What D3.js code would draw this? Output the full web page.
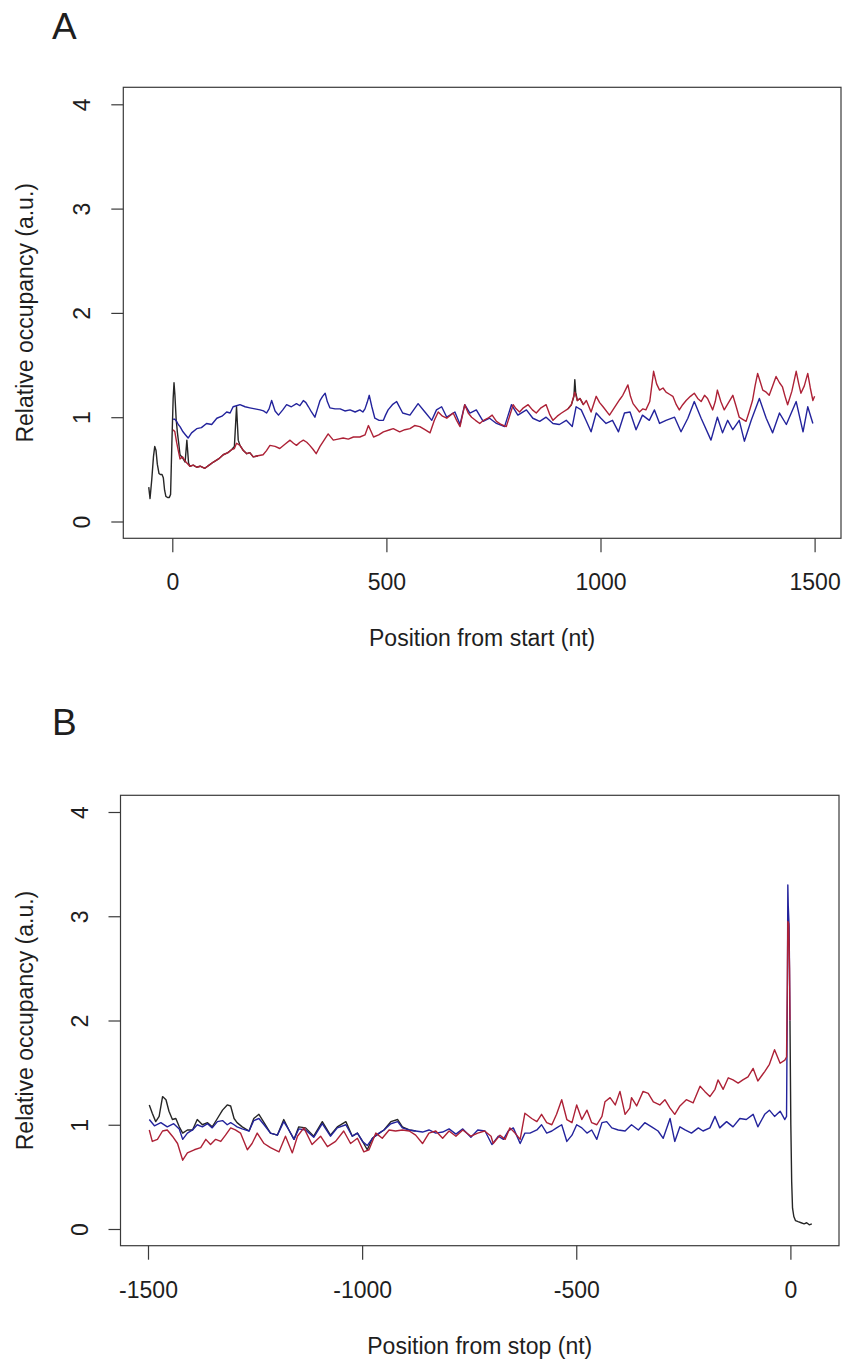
<!DOCTYPE html>
<html>
<head>
<meta charset="utf-8">
<script src="https://cdn.jsdelivr.net/npm/d3@7"></script>
<style>
  html, body { margin: 0; padding: 0; background: #fff; }
  svg { display: block; }
  text { font-family: "Liberation Sans", Arial, Helvetica, sans-serif; fill: #1e1e1e; }
</style>
</head>
<body>
<svg id="chart" width="846" height="1364"></svg>
<script>
// ---------------- DATA ----------------
// Panel A : position from start (nt)
const aTicksX = [0, 500, 1000, 1500];
const yTicks = [0, 1, 2, 3, 4];

const aBlueX = [2, 6, 10, 14, 18, 25, 31, 37, 45, 57, 68, 80, 92, 104, 116, 127, 135, 142, 150, 158, 170, 181, 193, 205, 213, 220, 226, 232, 240, 248, 258, 267, 278, 290, 298, 306, 312, 318, 325, 333, 339, 345, 351, 357, 362, 368, 380, 392, 403, 415, 427, 438, 445, 450, 455, 460, 466, 473, 483, 493, 498, 504, 514, 524, 538, 555, 574, 590, 606, 617, 629, 641, 660, 672, 683, 695, 710, 726, 741, 757, 776, 792, 807, 827, 842, 858, 873, 889, 904, 920, 934, 943, 955, 966, 978, 990, 1001, 1013, 1028, 1042, 1056, 1069, 1083, 1098, 1114, 1126, 1138, 1153, 1173, 1188, 1204, 1219, 1235, 1258, 1273, 1285, 1297, 1309, 1324, 1336, 1352, 1371, 1387, 1402, 1418, 1434, 1457, 1473, 1484, 1496];
const aBlueY = [0.98, 0.98, 0.96, 0.93, 0.91, 0.86, 0.83, 0.80, 0.85, 0.89, 0.90, 0.94, 0.93, 0.99, 1.01, 1.05, 1.04, 1.10, 1.11, 1.12, 1.10, 1.09, 1.08, 1.07, 1.06, 1.04, 1.08, 1.16, 1.06, 1.02, 1.07, 1.12, 1.10, 1.13, 1.11, 1.16, 1.14, 1.10, 1.05, 1.00, 1.08, 1.16, 1.20, 1.23, 1.15, 1.09, 1.08, 1.08, 1.06, 1.07, 1.05, 1.07, 1.05, 1.08, 1.14, 1.21, 1.10, 0.99, 0.97, 0.97, 1.02, 1.07, 1.12, 1.15, 1.04, 1.02, 1.13, 1.05, 0.97, 1.07, 1.10, 1.00, 1.05, 0.93, 1.12, 1.04, 1.07, 0.96, 0.99, 0.94, 0.91, 1.12, 1.02, 1.07, 0.99, 0.96, 1.00, 0.94, 0.93, 0.97, 0.91, 1.10, 1.07, 0.97, 0.86, 1.04, 0.99, 0.94, 0.97, 0.86, 1.04, 1.05, 0.88, 1.02, 0.97, 1.07, 0.94, 0.97, 1.00, 0.86, 0.99, 1.15, 0.99, 0.78, 1.00, 0.85, 0.97, 0.88, 0.97, 0.77, 0.97, 1.18, 0.99, 0.85, 1.04, 0.93, 1.15, 0.86, 1.10, 0.94];

const aRedX = [2, 6, 10, 14, 18, 24, 30, 34, 41, 49, 57, 65, 76, 86, 96, 108, 119, 130, 139, 145, 150, 158, 166, 174, 181, 189, 200, 212, 220, 228, 240, 251, 263, 275, 283, 290, 298, 306, 314, 321, 329, 336, 345, 353, 364, 376, 387, 399, 411, 423, 438, 450, 458, 470, 482, 493, 508, 516, 531, 543, 555, 566, 578, 590, 602, 612, 621, 631, 641, 656, 664, 672, 683, 691, 699, 708, 718, 727, 737, 747, 757, 768, 780, 796, 803, 811, 820, 831, 841, 850, 861, 873, 881, 889, 899, 909, 924, 932, 940, 946, 952, 960, 967, 978, 990, 998, 1006, 1021, 1029, 1037, 1045, 1052, 1058, 1064, 1070, 1076, 1091, 1099, 1106, 1115, 1124, 1131, 1138, 1146, 1153, 1161, 1169, 1177, 1184, 1192, 1200, 1210, 1219, 1227, 1235, 1243, 1250, 1262, 1268, 1273, 1281, 1289, 1299, 1309, 1317, 1324, 1332, 1340, 1347, 1355, 1361, 1367, 1373, 1379, 1387, 1394, 1402, 1410, 1418, 1425, 1431, 1437, 1447, 1457, 1463, 1468, 1476, 1484, 1490, 1496, 1500];
const aRedY = [0.88, 0.86, 0.76, 0.68, 0.60, 0.62, 0.58, 0.56, 0.53, 0.54, 0.52, 0.53, 0.51, 0.54, 0.57, 0.60, 0.64, 0.66, 0.69, 0.70, 0.75, 0.73, 0.68, 0.65, 0.66, 0.62, 0.63, 0.64, 0.68, 0.73, 0.72, 0.70, 0.74, 0.78, 0.75, 0.73, 0.76, 0.78, 0.76, 0.73, 0.69, 0.65, 0.72, 0.77, 0.84, 0.78, 0.79, 0.80, 0.79, 0.81, 0.81, 0.83, 0.92, 0.81, 0.83, 0.86, 0.88, 0.89, 0.86, 0.88, 0.89, 0.92, 0.91, 0.88, 0.85, 0.97, 1.05, 1.01, 0.99, 1.04, 0.97, 0.91, 1.12, 1.04, 1.00, 0.97, 0.94, 0.97, 0.99, 1.02, 0.96, 0.93, 0.91, 1.12, 1.08, 1.05, 1.09, 1.12, 1.07, 1.04, 1.09, 1.12, 1.03, 0.97, 1.01, 1.04, 1.08, 1.12, 1.24, 1.16, 1.18, 1.12, 1.16, 1.05, 1.20, 1.14, 1.10, 1.02, 1.07, 1.12, 1.17, 1.21, 1.26, 1.31, 1.20, 1.13, 1.05, 1.08, 1.07, 1.15, 1.44, 1.32, 1.26, 1.28, 1.24, 1.22, 1.20, 1.12, 1.07, 1.12, 1.16, 1.20, 1.23, 1.18, 1.15, 1.21, 1.18, 1.07, 1.15, 1.26, 1.15, 1.07, 1.14, 1.21, 1.10, 1.00, 0.98, 0.96, 1.05, 1.16, 1.30, 1.42, 1.34, 1.26, 1.24, 1.21, 1.30, 1.39, 1.33, 1.29, 1.20, 1.12, 1.25, 1.44, 1.32, 1.23, 1.30, 1.42, 1.28, 1.16, 1.20];

// black trace (null = not drawn)
const aBlackX = [-55, -52, -48, -44, -41, -38, -35, -31, -28, -24, -21, -18, -15, -11, -7, -4, -1, 2, 4, 6, 9, 12, 15, 18, 24, 30, 34, 38, 41, 49, 57, 65, 76, 86, 96, 108, 119, 130, 139, 145, 150, 154, 158, 166, 174, 181, 189, 200, 210, 924, 932, 938, 940, 942, 946, 952, 960];
const aBlackY = [0.33, 0.22, 0.40, 0.62, 0.72, 0.68, 0.55, 0.46, 0.45, 0.45, 0.42, 0.30, 0.24, 0.23, 0.23, 0.26, 0.75, 1.18, 1.33, 1.22, 0.98, 0.85, 0.75, 0.64, 0.61, 0.57, 0.78, 0.56, 0.53, 0.54, 0.52, 0.53, 0.51, 0.54, 0.57, 0.60, 0.64, 0.66, 0.69, 0.72, 1.10, 0.78, 0.73, 0.68, 0.65, 0.66, 0.62, 0.63, null, 1.08, 1.12, 1.20, 1.36, 1.24, 1.16, 1.18, 1.12];

// Panel B : position from stop (nt)
const bTicksX = [-1500, -1000, -500, 0];

const bBlueX = [-1497, -1485, -1470, -1455, -1440, -1427, -1419, -1408, -1396, -1385, -1373, -1361, -1350, -1338, -1326, -1315, -1307, -1299, -1292, -1280, -1264, -1253, -1241, -1229, -1214, -1198, -1183, -1171, -1159, -1148, -1132, -1113, -1093, -1074, -1058, -1038, -1023, -1011, -999, -988, -976, -960, -949, -933, -917, -906, -890, -875, -859, -844, -828, -812, -797, -781, -765, -746, -730, -713, -697, -682, -670, -659, -647, -631, -620, -608, -592, -581, -569, -557, -546, -534, -522, -510, -499, -487, -475, -464, -452, -440, -429, -417, -402, -386, -371, -355, -340, -324, -309, -297, -281, -270, -258, -246, -231, -215, -204, -188, -176, -165, -149, -134, -118, -103, -87, -76, -60, -49, -37, -24, -13, -9, -7, -6, -5, -3, -1];
const bBlueY = [1.05, 0.99, 1.02, 0.98, 1.01, 0.96, 0.86, 0.92, 0.95, 1.00, 0.98, 1.01, 0.97, 1.03, 1.04, 1.00, 1.02, 1.00, 0.98, 0.96, 0.94, 1.04, 1.06, 1.00, 0.92, 0.90, 1.03, 0.95, 0.86, 0.96, 0.95, 0.88, 1.01, 0.89, 0.97, 1.00, 0.89, 0.92, 0.84, 0.80, 0.87, 0.92, 0.95, 1.01, 1.03, 0.97, 0.95, 0.94, 0.93, 0.95, 0.92, 0.93, 0.96, 0.91, 0.96, 0.88, 0.95, 0.94, 0.81, 0.89, 0.86, 0.94, 0.97, 0.82, 0.92, 0.92, 0.95, 1.00, 0.92, 0.94, 0.97, 1.00, 0.84, 0.90, 1.00, 0.97, 0.92, 0.95, 0.86, 1.02, 1.03, 0.97, 0.95, 0.94, 1.00, 0.95, 1.02, 0.98, 0.94, 0.87, 1.06, 0.84, 0.98, 0.95, 0.92, 0.97, 0.94, 0.97, 1.08, 0.97, 1.03, 0.98, 1.06, 1.05, 1.10, 0.98, 1.10, 1.14, 1.08, 1.13, 1.05, 1.08, 2.30, 3.30, 3.10, 2.90, 2.00];

const bRedX = [-1497, -1490, -1478, -1466, -1455, -1443, -1431, -1419, -1408, -1392, -1377, -1365, -1354, -1342, -1330, -1319, -1307, -1296, -1284, -1268, -1257, -1245, -1229, -1214, -1194, -1179, -1163, -1151, -1136, -1117, -1097, -1081, -1062, -1043, -1027, -1011, -996, -984, -968, -953, -937, -922, -906, -890, -875, -859, -844, -828, -812, -797, -781, -765, -746, -730, -714, -699, -694, -678, -666, -655, -643, -631, -620, -604, -592, -581, -569, -557, -546, -534, -522, -510, -499, -487, -475, -464, -452, -440, -433, -421, -409, -398, -386, -375, -371, -359, -344, -332, -320, -305, -293, -281, -270, -258, -243, -227, -211, -200, -188, -176, -169, -157, -145, -134, -122, -111, -99, -87, -76, -60, -49, -37, -24, -13, -9, -7, -6, -4, -2, -1];
const bRedY = [0.95, 0.84, 0.86, 0.94, 0.95, 0.89, 0.82, 0.66, 0.73, 0.76, 0.78, 0.86, 0.81, 0.86, 0.84, 0.90, 0.97, 0.95, 0.92, 0.76, 0.82, 0.92, 0.82, 0.78, 0.74, 0.89, 0.73, 0.89, 0.97, 0.81, 0.89, 0.79, 0.84, 0.94, 0.82, 0.87, 0.74, 0.76, 0.92, 0.87, 0.95, 0.94, 0.95, 0.94, 0.90, 0.82, 0.92, 0.94, 0.87, 0.94, 0.89, 0.95, 0.89, 0.92, 0.94, 0.89, 0.82, 0.90, 0.86, 0.97, 0.92, 0.86, 1.11, 1.06, 1.03, 1.10, 1.02, 1.00, 1.10, 1.24, 1.05, 1.02, 1.19, 1.05, 1.14, 1.02, 1.00, 1.08, 1.22, 1.26, 1.19, 1.32, 1.10, 1.16, 1.26, 1.18, 1.32, 1.30, 1.22, 1.19, 1.24, 1.16, 1.10, 1.18, 1.24, 1.21, 1.37, 1.32, 1.27, 1.34, 1.43, 1.34, 1.45, 1.43, 1.40, 1.43, 1.46, 1.54, 1.42, 1.51, 1.58, 1.72, 1.59, 1.62, 1.65, 2.40, 2.95, 2.93, 2.50, 2.00];

const bBlackX = [-1497, -1490, -1482, -1474, -1466, -1458, -1451, -1443, -1435, -1427, -1419, -1408, -1396, -1385, -1373, -1361, -1350, -1338, -1326, -1315, -1307, -1299, -1292, -1280, -1264, -1253, -1241, -1229, -1214, -1198, -1183, -1171, -1159, -1148, -1132, -1113, -1093, -1074, -1058, -1038, -1023, -1011, -999, -988, -976, -960, -949, -933, -917, -906, -890, -875, -860, -1, 1, 3, 5, 8, 12, 18, 25, 32, 38, 44, 50];
const bBlackY = [1.19, 1.11, 1.03, 1.08, 1.27, 1.24, 1.13, 1.05, 1.06, 0.98, 0.92, 0.95, 0.95, 1.05, 1.00, 1.02, 0.98, 1.06, 1.14, 1.19, 1.18, 1.06, 1.02, 0.98, 0.94, 1.06, 1.10, 1.02, 0.92, 0.90, 1.05, 0.95, 0.86, 0.98, 0.97, 0.89, 1.03, 0.90, 0.98, 1.03, 0.89, 0.92, 0.84, 0.76, 0.87, 0.92, 0.95, 1.03, 1.05, 0.98, 0.95, 0.94, null, 2.00, 1.00, 0.45, 0.20, 0.12, 0.08, 0.07, 0.06, 0.05, 0.06, 0.04, 0.05];

const colBlack = "#262626";
const colBlue = "#23239c";
const colRed = "#ad2136";

// ---------------- DRAW ----------------
const svg = d3.select("#chart");
const FS = 23;

function panel(cfg) {
  const x = d3.scaleLinear().domain(cfg.xDom).range(cfg.xRange);
  const y = d3.scaleLinear().domain([0, 4]).range(cfg.yRange);
  const box = cfg.box; // [left, top, right, bottom]
  const g = svg.append("g");

  const line = d3.line()
    .defined(d => d[1] !== null)
    .x(d => x(d[0])).y(d => y(d[1]));

  const series = [
    {xs: cfg.blackX, ys: cfg.blackY, c: colBlack},
    {xs: cfg.blueX, ys: cfg.blueY, c: colBlue},
    {xs: cfg.redX, ys: cfg.redY, c: colRed}
  ];
  series.forEach(s => {
    g.append("path")
      .datum(d3.zip(s.xs, s.ys))
      .attr("fill", "none")
      .attr("stroke", s.c)
      .attr("stroke-width", 1.4)
      .attr("stroke-linejoin", "round")
      .attr("d", line);
  });

  // box
  g.append("rect")
    .attr("x", box[0]).attr("y", box[1])
    .attr("width", box[2] - box[0]).attr("height", box[3] - box[1])
    .attr("fill", "none").attr("stroke", "#3a3a3a").attr("stroke-width", 1.2);

  // x axis
  const xa = g.append("g").attr("transform", `translate(0,${box[3]})`)
    .call(d3.axisBottom(x).tickValues(cfg.xTicks).tickSize(14).tickSizeOuter(0).tickFormat(d3.format("d")));
  xa.select(".domain").remove();
  xa.selectAll("line").attr("stroke", "#3a3a3a").attr("stroke-width", 1.2);
  xa.selectAll("text").attr("y", 52).attr("dy", 0)
    .style("font-size", FS + "px").attr("fill", "#1e1e1e")
    .text(d => d < 0 ? "-" + Math.abs(d) : d);

  // y axis
  const ya = g.append("g").attr("transform", `translate(${box[0]},0)`)
    .call(d3.axisLeft(y).tickValues(yTicks).tickSize(12).tickSizeOuter(0).tickFormat(d3.format("d")));
  ya.select(".domain").remove();
  ya.selectAll("line").attr("stroke", "#3a3a3a").attr("stroke-width", 1.2);
  ya.selectAll("text")
    .attr("x", null).attr("dy", null)
    .attr("transform", "translate(-33,0) rotate(-90)")
    .attr("text-anchor", "middle")
    .style("font-size", FS + "px").attr("fill", "#1e1e1e");

  // axis titles
  g.append("text")
    .attr("x", (box[0] + box[2]) / 2).attr("y", box[3] + 108)
    .attr("text-anchor", "middle").style("font-size", FS + "px")
    .text(cfg.xLabel);
  g.append("text")
    .attr("transform", `translate(33,${(box[1] + box[3]) / 2}) rotate(-90)`)
    .attr("text-anchor", "middle").style("font-size", FS + "px")
    .text("Relative occupancy (a.u.)");

  // panel letter
  g.append("text").attr("x", 52).attr("y", cfg.letterY)
    .style("font-size", "37px").text(cfg.letter);
}

panel({
  xDom: [0, 1500], xRange: [172.3, 814.6], yRange: [521.5, 104.3],
  box: [123.3, 87.3, 841, 538.3], xTicks: aTicksX,
  blackX: aBlackX, blackY: aBlackY, blueX: aBlueX, blueY: aBlueY, redX: aRedX, redY: aRedY,
  xLabel: "Position from start (nt)", letter: "A", letterY: 39
});

panel({
  xDom: [-1500, 0], xRange: [148, 790.4], yRange: [1229, 812],
  box: [120.5, 795.3, 839, 1245.7], xTicks: bTicksX,
  blackX: bBlackX, blackY: bBlackY, blueX: bBlueX, blueY: bBlueY, redX: bRedX, redY: bRedY,
  xLabel: "Position from stop (nt)", letter: "B", letterY: 735
});
</script>
</body>
</html>
